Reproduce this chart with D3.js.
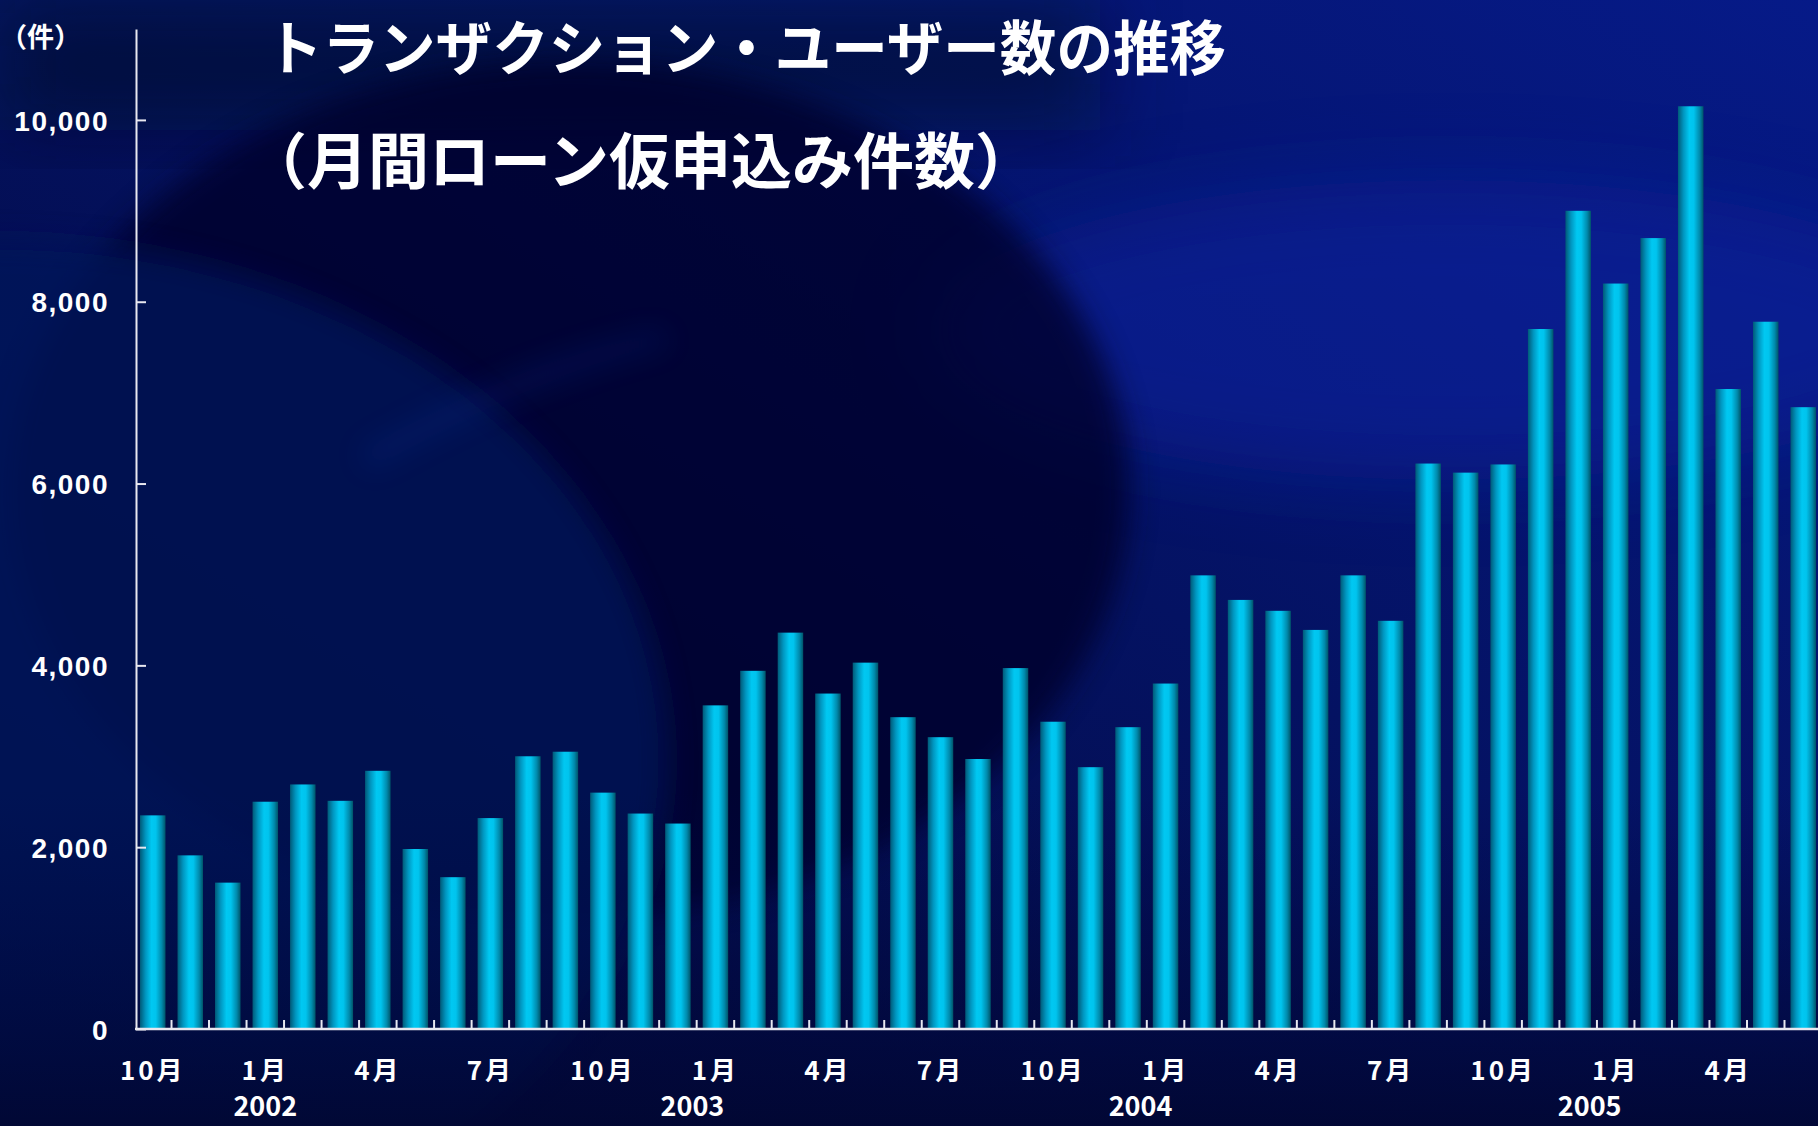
<!DOCTYPE html>
<html>
<head>
<meta charset="utf-8">
<script src="https://cdn.jsdelivr.net/npm/d3@7"></script>
<style>
  html, body { margin: 0; padding: 0; background: #030a40; }
  svg { display: block; }
</style>
</head>
<body>
<svg id="chart" width="1818" height="1126"></svg>
<script>
// ---- data ----
const categories = [
  "2001-10","2001-11","2001-12","2002-01","2002-02","2002-03","2002-04","2002-05","2002-06",
  "2002-07","2002-08","2002-09","2002-10","2002-11","2002-12","2003-01","2003-02","2003-03",
  "2003-04","2003-05","2003-06","2003-07","2003-08","2003-09","2003-10","2003-11","2003-12",
  "2004-01","2004-02","2004-03","2004-04","2004-05","2004-06","2004-07","2004-08","2004-09",
  "2004-10","2004-11","2004-12","2005-01","2005-02","2005-03","2005-04","2005-05","2005-06"
];
const values = [
  2350, 1910, 1610, 2500, 2690, 2510, 2840, 1980, 1670,
  2320, 3000, 3050, 2600, 2370, 2260, 3560, 3940, 4360,
  3690, 4030, 3430, 3210, 2970, 3970, 3380, 2880, 3320,
  3800, 4990, 4720, 4600, 4390, 4990, 4490, 6220, 6120,
  6210, 7700, 9000, 8200, 8700, 10150, 7040, 7780, 6840
];
const monthTickCategories = ["2001-10","2002-01","2002-04","2002-07","2002-10","2003-01","2003-04","2003-07","2003-10","2004-01","2004-04","2004-07","2004-10","2005-01","2005-04"];
const monthTickLabels = ["10月","1月","4月","7月","10月","1月","4月","7月","10月","1月","4月","7月","10月","1月","4月"];
const yearLabels = ["2002","2003","2004","2005"];
const yearAnchorCategories = ["2002-01","2003-01","2004-01","2005-01"];
const yTickValues = [0, 2000, 4000, 6000, 8000, 10000];
const yMax = 11000;
const unitLabel = "（件）";
const titleLine1 = "トランザクション・ユーザー数の推移";
const titleLine2 = "（月間ローン仮申込み件数）";

// ---- drawing ----
const W = 1818, H = 1126;
const svg = d3.select("#chart");
const defs = svg.append("defs");

// background gradients
const bgGrad = defs.append("linearGradient").attr("id","bgGrad")
  .attr("x1","0").attr("y1","1").attr("x2","1").attr("y2","0");
bgGrad.append("stop").attr("offset","0%").attr("stop-color","#020837");
bgGrad.append("stop").attr("offset","55%").attr("stop-color","#041262");
bgGrad.append("stop").attr("offset","100%").attr("stop-color","#061a88");

const vGrad = defs.append("linearGradient").attr("id","vGrad")
  .attr("x1","0").attr("y1","0").attr("x2","0").attr("y2","1");
vGrad.append("stop").attr("offset","0%").attr("stop-color","#000845").attr("stop-opacity",0.0);
vGrad.append("stop").attr("offset","70%").attr("stop-color","#000845").attr("stop-opacity",0.0);
vGrad.append("stop").attr("offset","100%").attr("stop-color","#010630").attr("stop-opacity",0.85);

const blur = defs.append("filter").attr("id","soft").attr("x","-20%").attr("y","-20%").attr("width","140%").attr("height","140%");
blur.append("feGaussianBlur").attr("stdDeviation", 14);
const blurBig = defs.append("filter").attr("id","softBig").attr("x","-30%").attr("y","-30%").attr("width","160%").attr("height","160%");
blurBig.append("feGaussianBlur").attr("stdDeviation", 40);

const bg = svg.append("g");
bg.append("rect").attr("width",W).attr("height",H).attr("fill","url(#bgGrad)");
// top-left darkness
bg.append("rect").attr("x",0).attr("y",0).attr("width",1100).attr("height",130)
  .attr("fill","#02082e").attr("opacity",0.6).attr("filter","url(#softBig)");
// bright band at top right
bg.append("ellipse").attr("cx",1450).attr("cy",330).attr("rx",520).attr("ry",150)
  .attr("fill","#0a22a0").attr("opacity",0.55).attr("filter","url(#softBig)");
// dark swoosh hole
bg.append("ellipse").attr("cx",570).attr("cy",490).attr("rx",560).attr("ry",430)
  .attr("fill","#01042c").attr("opacity",0.78).attr("filter","url(#soft)");
// left medium swoosh
bg.append("ellipse").attr("cx",0).attr("cy",760).attr("rx",668).attr("ry",520)
  .attr("fill","#06125a").attr("opacity",0.75).attr("filter","url(#soft)");
// faint diagonal streak
bg.append("path").attr("d","M360,450 C470,390 560,350 660,330 L670,345 C570,370 480,410 370,470 Z")
  .attr("fill","#1030a0").attr("opacity",0.2).attr("filter","url(#soft)");
bg.append("rect").attr("width",W).attr("height",H).attr("fill","url(#vGrad)");

// bar gradient
const barGrad = defs.append("linearGradient").attr("id","barGrad")
  .attr("x1","0").attr("y1","0").attr("x2","1").attr("y2","0");
barGrad.append("stop").attr("offset","0%").attr("stop-color","#005a78");
barGrad.append("stop").attr("offset","22%").attr("stop-color","#0096c0");
barGrad.append("stop").attr("offset","45%").attr("stop-color","#00c8f2");
barGrad.append("stop").attr("offset","62%").attr("stop-color","#00c4ee");
barGrad.append("stop").attr("offset","85%").attr("stop-color","#008aac");
barGrad.append("stop").attr("offset","100%").attr("stop-color","#005468");

const x0 = 134, x1 = 1822, y0 = 1029, yTop = 29;
const x = d3.scaleBand().domain(categories).range([x0, x1]).paddingInner(0.32).paddingOuter(0.16);
const y = d3.scaleLinear().domain([0, yMax]).range([y0, yTop]);
const valueByCat = new Map(categories.map((c,i)=>[c, values[i]]));

svg.append("g").selectAll("rect").data(categories).join("rect")
  .attr("x", d => x(d))
  .attr("width", x.bandwidth())
  .attr("y", d => y(valueByCat.get(d)))
  .attr("height", d => y(0) - y(valueByCat.get(d)))
  .attr("fill","url(#barGrad)");

const axisColor = "#e8e8f0";
// Y axis
const yAxis = d3.axisLeft(y).tickValues(yTickValues).tickSizeInner(-10).tickSizeOuter(0)
  .tickPadding(27).tickFormat(d3.format(","));
const gy = svg.append("g").attr("transform",`translate(${x0+2},0)`).call(yAxis);
gy.select(".domain").attr("stroke",axisColor).attr("stroke-width",2);
gy.selectAll(".tick line").attr("stroke",axisColor).attr("stroke-width",2);
gy.selectAll(".tick text").attr("fill","#ffffff")
  .style("font-family","'Liberation Sans', Arial, sans-serif").style("font-weight","bold")
  .style("font-size","28px").style("letter-spacing","1.5px").attr("dy","0.36em");

// X axis baseline
svg.append("line").attr("x1", x0+1).attr("x2", W).attr("y1", y0).attr("y2", y0)
  .attr("stroke",axisColor).attr("stroke-width",2.5);
// boundary ticks between bars
const step = x.step();
const boundaries = categories.slice(1).map(c => x(c) - step * x.paddingInner() / 2);
svg.append("g").selectAll("line").data(boundaries).join("line")
  .attr("x1", d => d).attr("x2", d => d)
  .attr("y1", y0).attr("y2", y0 - 9)
  .attr("stroke",axisColor).attr("stroke-width",2);

// month labels
const labelFont = "'Noto Sans CJK JP', 'Noto Sans', sans-serif";
svg.append("g").selectAll("text").data(monthTickCategories).join("text")
  .attr("x", d => x(d) + x.bandwidth()/2)
  .attr("y", 1080)
  .attr("text-anchor","middle")
  .attr("fill","#ffffff")
  .style("font-family", labelFont).style("font-weight","bold")
  .style("font-size","26px").style("letter-spacing","3px")
  .text((d,i) => monthTickLabels[i]);

// year labels
const yearShift = [0, -23, -25, -26];
svg.append("g").selectAll("text").data(yearAnchorCategories).join("text")
  .attr("x", (d,i) => x(d) + x.bandwidth()/2 + yearShift[i])
  .attr("y", 1116)
  .attr("text-anchor","middle")
  .attr("fill","#ffffff")
  .style("font-family", labelFont).style("font-weight","bold")
  .style("font-size","27px")
  .text((d,i) => yearLabels[i]);

// unit label
svg.append("text").attr("x", 0).attr("y", 47)
  .attr("fill","#ffffff")
  .style("font-family", labelFont).style("font-weight","bold")
  .style("font-size","27px")
  .text(unitLabel);

// titles
svg.append("text").attr("x", 266).attr("y", 70)
  .attr("fill","#ffffff")
  .attr("textLength", 960).attr("lengthAdjust","spacingAndGlyphs")
  .style("font-family", labelFont).style("font-weight","bold")
  .style("font-size","59px")
  .text(titleLine1);
svg.append("text").attr("x", 246).attr("y", 184)
  .attr("fill","#ffffff")
  .attr("textLength", 790).attr("lengthAdjust","spacingAndGlyphs")
  .style("font-family", labelFont).style("font-weight","bold")
  .style("font-size","61px")
  .text(titleLine2);
</script>
</body>
</html>
